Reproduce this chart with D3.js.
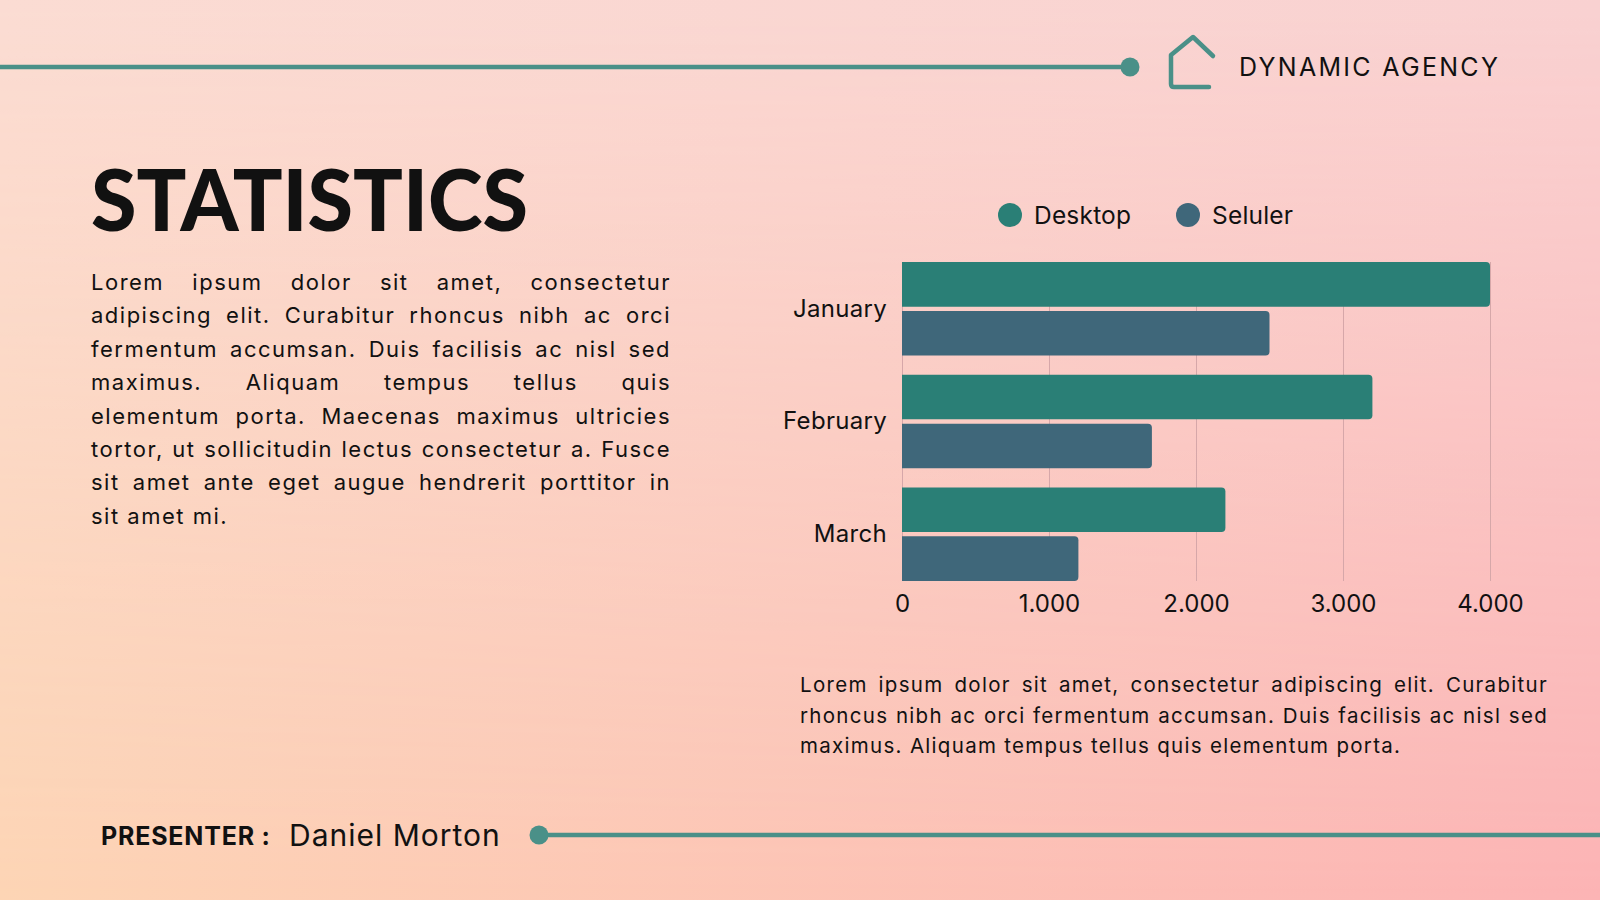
<!DOCTYPE html>
<html>
<head>
<meta charset="utf-8">
<script src="https://cdn.jsdelivr.net/npm/d3@7"></script>
<style>
  body { margin: 0; }
  svg { display: block; }
  text { font-family: Inter, "Noto Sans", sans-serif; fill: #111; }
</style>
</head>
<body>
<div id="divplot"></div>
<script>
// Statistics slide - monthly visits by device

const months = ['January', 'February', 'March']
const series = ['Desktop', 'Seluler']
const desktop = [4000, 3200, 2200]
const seluler = [2500, 1700, 1200]
const xTicks = [0, 1000, 2000, 3000, 4000]

const leftLines = [
	'Lorem ipsum dolor sit amet, consectetur',
	'adipiscing elit. Curabitur rhoncus nibh ac orci',
	'fermentum accumsan. Duis facilisis ac nisl sed',
	'maximus. Aliquam tempus tellus quis',
	'elementum porta. Maecenas maximus ultricies',
	'tortor, ut sollicitudin lectus consectetur a. Fusce',
	'sit amet ante eget augue hendrerit porttitor in',
	'sit amet mi.'
]
const rightLines = [
	'Lorem ipsum dolor sit amet, consectetur adipiscing elit. Curabitur',
	'rhoncus nibh ac orci fermentum accumsan. Duis facilisis ac nisl sed',
	'maximus. Aliquam tempus tellus quis elementum porta.'
]

const colors = { Desktop: '#2a7f76', Seluler: '#3f677a' }
const teal = '#4a9088'

const width = 1600
const height = 900

let svg = d3.select('#divplot')
	.append('svg')
	.attr('width', width)
	.attr('height', height)

// background: bilinear-ish gradient
let defs = svg.append('defs')
let gBottom = defs.append('linearGradient').attr('id', 'gBottom')
gBottom.append('stop').attr('offset', '0%').attr('stop-color', '#fdd5b5')
gBottom.append('stop').attr('offset', '100%').attr('stop-color', '#fcb4b5')
let gTop = defs.append('linearGradient').attr('id', 'gTop')
gTop.append('stop').attr('offset', '0%').attr('stop-color', '#fbdcd3')
gTop.append('stop').attr('offset', '100%').attr('stop-color', '#f9d1d1')
let gFade = defs.append('linearGradient').attr('id', 'gFade')
	.attr('x1', 0).attr('y1', 0).attr('x2', 0).attr('y2', 1)
gFade.append('stop').attr('offset', '0%').attr('stop-color', 'white')
gFade.append('stop').attr('offset', '100%').attr('stop-color', 'black')
defs.append('mask').attr('id', 'fadeMask')
	.append('rect').attr('width', width).attr('height', height).attr('fill', 'url(#gFade)')

svg.append('rect').attr('width', width).attr('height', height).attr('fill', 'url(#gBottom)')
svg.append('rect').attr('width', width).attr('height', height).attr('fill', 'url(#gTop)')
	.attr('mask', 'url(#fadeMask)')

// header line + logo
svg.append('line')
	.attr('x1', 0).attr('x2', 1130).attr('y1', 67).attr('y2', 67)
	.attr('stroke', teal).attr('stroke-width', 4.5)
svg.append('circle').attr('cx', 1130).attr('cy', 67).attr('r', 9.5).attr('fill', teal)

svg.append('path')
	.attr('d', 'M1213,56 L1193,37 L1171,55 L1171,84 Q1171,87 1174,87 L1209,87')
	.attr('fill', 'none')
	.attr('stroke', teal)
	.attr('stroke-width', 4.5)
	.attr('stroke-linecap', 'round')
	.attr('stroke-linejoin', 'round')

svg.append('text')
	.attr('x', 1239).attr('y', 76)
	.attr('style', 'font-size: 25px; letter-spacing: 2.3px')
	.text('DYNAMIC AGENCY')

// title
svg.append('text')
	.attr('x', 91).attr('y', 231)
	.attr('textLength', 437)
	.attr('lengthAdjust', 'spacingAndGlyphs')
	.attr('style', 'font-family: Lato, sans-serif; font-size: 86px; font-weight: 900')
	.text('STATISTICS')

// justified paragraph helper
const paragraph = (lines, x, y0, lineH, w, style) => {
	lines.forEach((line, i) => {
		let t = svg.append('text')
			.attr('x', x)
			.attr('y', y0 + i * lineH)
			.attr('style', style)
			.text(line)
		if (i < lines.length - 1) {
			let gaps = line.split(' ').length - 1
			let extra = (w - t.node().getComputedTextLength()) / gaps
			t.attr('word-spacing', extra)
		}
	})
}

paragraph(leftLines, 91, 290, 33.4, 580, 'font-size: 22px; letter-spacing: 1.5px')
paragraph(rightLines, 800, 692, 30.5, 748, 'font-size: 20.5px; letter-spacing: 1.3px')

// chart
let plotLeft = 902
let plotRight = 1490
let plotTop = 262
let plotBottom = 581

let xScale = d3.scaleLinear()
	.domain([0, 4000])
	.range([plotLeft, plotRight])

let yScale = d3.scaleBand()
	.domain(months)
	.range([plotTop - 9.5, plotBottom + 9.5])
	.paddingInner(0.17)
	.paddingOuter(0.085)

let subScale = d3.scaleBand()
	.domain(series)
	.range([0, yScale.bandwidth()])
	.paddingInner(0.09)

let locale = d3.formatLocale({ decimal: ',', thousands: '.', grouping: [3], currency: ['', ''] })

let xAxis = svg.append('g')
	.attr('transform', `translate(0,${plotBottom})`)
	.call(d3.axisBottom(xScale)
		.tickValues(xTicks)
		.tickSize(-(plotBottom - plotTop))
		.tickPadding(14)
		.tickFormat(locale.format(',')))
xAxis.select('.domain').remove()
xAxis.selectAll('line').attr('stroke', '#d6a7a9').attr('stroke-width', 1)
xAxis.selectAll('text')
	.attr('style', 'font-family: Inter, sans-serif; font-size: 24px')
	.attr('fill', '#111')

let yAxis = svg.append('g')
	.attr('transform', `translate(${plotLeft},0)`)
	.call(d3.axisLeft(yScale).tickSize(0).tickPadding(15))
yAxis.select('.domain').remove()
yAxis.selectAll('text')
	.attr('style', 'font-family: Inter, sans-serif; font-size: 24px; letter-spacing: 0.3px')
	.attr('fill', '#111')

// bars with rounded right ends
const barPath = (x0, x1, y, h, r) =>
	`M${x0},${y} H${x1 - r} Q${x1},${y} ${x1},${y + r} V${y + h - r} Q${x1},${y + h} ${x1 - r},${y + h} H${x0} Z`

let rows = []
months.forEach((m, i) => {
	rows.push({ month: m, key: 'Desktop', value: desktop[i] })
	rows.push({ month: m, key: 'Seluler', value: seluler[i] })
})

svg.selectAll('path.bar')
	.data(rows)
	.enter()
	.append('path')
	.attr('class', 'bar')
	.attr('d', d => barPath(xScale(0), xScale(d.value), yScale(d.month) + subScale(d.key), subScale.bandwidth(), 4))
	.attr('fill', d => colors[d.key])

// legend
let legendX = [1010, 1188]
let legend = svg.selectAll('g.legend')
	.data(series)
	.enter()
	.append('g')
	.attr('class', 'legend')
	.attr('transform', (d, i) => `translate(${legendX[i]},215)`)
legend.append('circle').attr('r', 12).attr('fill', d => colors[d])
legend.append('text')
	.attr('x', 24).attr('y', 9)
	.attr('style', 'font-size: 24.5px; letter-spacing: 0.2px')
	.text(d => d)

// footer
svg.append('text')
	.attr('x', 101).attr('y', 845)
	.attr('style', 'font-size: 25px; font-weight: 700; letter-spacing: 0.8px')
	.text('PRESENTER :')
svg.append('text')
	.attr('x', 289).attr('y', 846)
	.attr('style', 'font-size: 30px; letter-spacing: 1px')
	.text('Daniel Morton')

svg.append('line')
	.attr('x1', 539).attr('x2', width).attr('y1', 835).attr('y2', 835)
	.attr('stroke', teal).attr('stroke-width', 4.5)
svg.append('circle').attr('cx', 539).attr('cy', 835).attr('r', 9.5).attr('fill', teal)
</script>
</body>
</html>
